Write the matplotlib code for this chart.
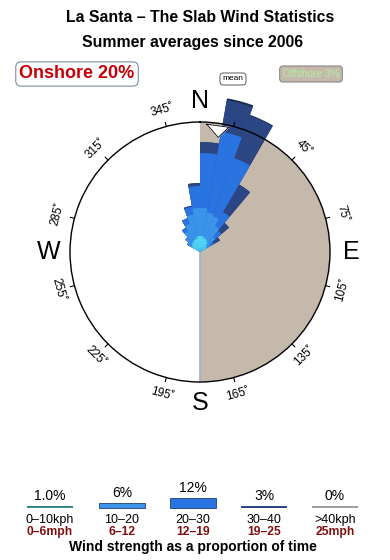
import numpy as np
import matplotlib
matplotlib.use('Agg')
from matplotlib import pyplot as plt

plt.rcParams['font.family'] = ['Liberation Sans', 'DejaVu Sans']

# direction bins (deg, centre of 10 deg sector) and cumulative rose radii per speed class
directions = [305, 315, 325, 335, 345, 355, 5, 15, 25, 35, 45, 55]
r_0_10 = [9, 11, 12, 13, 14, 16, 16, 15, 14, 12, 9, 7]
r_10_20 = [15, 18, 24, 30, 38, 44, 44, 40, 38, 30, 20, 12]
r_20_30 = [15, 19, 28, 36, 46, 66, 99, 122, 100, 46, 28, 16]
r_30_40 = [15, 19, 28, 36, 47, 69, 110, 154, 145, 78, 38, 23]
r_40_up = [15, 19, 28, 36, 47, 69, 110, 156, 146, 78, 38, 23]

speed_colors = ['#4fd8f2', '#3a94ea', '#2a74e2', '#2b4683', '#1c2c55']
legend_pct = [1.0, 6, 12, 3, 0]
legend_pct_txt = ['1.0%', '6%', '12%', '3%', '0%']
legend_colors = ['#3a8a8a', '#3a94ea', '#2a74e2', '#2b4683', '#a0a0a0']
kph_labels = ['0\u201310kph', '10\u201320', '20\u201330', '30\u201340', '>40kph']
mph_labels = ['0\u20136mph', '6\u201312', '12\u201319', '19\u201325', '25mph']

deg_labels = [15, 45, 75, 105, 135, 165, 195, 225, 255, 285, 315, 345]
onshore_pct = 20
offshore_pct = 3
mean_dir = 9

W, H = 390, 560
fig = plt.figure(figsize=(W / 100, H / 100), dpi=100)
fig.patch.set_facecolor('white')

def fx(x):
    return x / W

def fy(y):
    return 1 - y / H

# rose
cx, cy, R = 200, 252, 130
ax = fig.add_axes([fx(cx - R), fy(cy + R), 2 * R / W, 2 * R / H], projection='polar')
ax.set_theta_zero_location('N')
ax.set_theta_direction(-1)
ax.set_ylim(0, R)
ax.grid(False)
ax.set_xticks([])
ax.set_yticks([])
ax.spines['polar'].set_linewidth(1.0)
ax.spines['polar'].set_zorder(6)
ax.set_facecolor('white')

# offshore half shaded
ax.bar(np.deg2rad(90), R, width=np.pi, bottom=0, color='#c5b9ab', edgecolor='none', zorder=1)
ax.plot([np.pi, np.pi], [0, R], color='#9fb2c8', lw=1.2, zorder=2)

theta = np.deg2rad(directions)
width = np.deg2rad(10)
layers = [r_0_10, r_10_20, r_20_30, r_30_40, r_40_up]
# draw outer layers first so inner ones sit on top
for k in range(len(layers) - 1, -1, -1):
    ax.bar(theta, layers[k], width=width, bottom=0, color=speed_colors[k],
           edgecolor='none', zorder=3 + 0.01 * (5 - k), clip_on=False)

# mean arrow
th = np.deg2rad([mean_dir - 6, mean_dir + 4, mean_dir, mean_dir - 6])
rr = [128, 128, 116, 128]
ax.fill(th, rr, color='white', zorder=5, clip_on=False)
ax.plot(th, rr, color='black', lw=0.6, zorder=5, clip_on=False)

# ticks and degree labels
for d in deg_labels:
    t = np.deg2rad(d)
    ax.plot([t, t], [R, R + 4], color='black', lw=0.8, clip_on=False, zorder=6)
    if d == 15:
        continue
    rot = -d if (d < 90 or d > 270) else 180 - d
    ax.text(t, R + 17, '%d\u02da' % d, rotation=rot, ha='center', va='center',
            fontsize=8.5, rotation_mode='anchor', clip_on=False)

for lab, d in zip(['N', 'E', 'S', 'W'], [0, 90, 180, 270]):
    ax.text(np.deg2rad(d), R + 21, lab, ha='center', va='center', fontsize=18, clip_on=False)

# titles
fig.text(fx(200), fy(18), 'La Santa \u2013 The Slab Wind Statistics', ha='center', va='center',
         fontsize=11.4, fontweight='bold')
fig.text(fx(193), fy(42), 'Summer averages since 2006', ha='center', va='center',
         fontsize=11.4, fontweight='bold')

fig.text(fx(77), fy(74), 'Onshore %d%%' % onshore_pct, ha='center', va='center', fontsize=13,
         fontweight='bold', color='#c8000a',
         bbox=dict(boxstyle='round,pad=0.2,rounding_size=0.3', fc='white', ec='#7a8ea8', lw=0.8))
fig.text(fx(311), fy(74), 'Offshore %d%%' % offshore_pct, ha='center', va='center', fontsize=7.3,
         color='#b0f0a0',
         bbox=dict(boxstyle='round,pad=0.3,rounding_size=0.3', fc='#c5b9ab', ec='#707070', lw=0.6))
fig.text(fx(233), fy(79), 'mean', ha='center', va='center', fontsize=6,
         bbox=dict(boxstyle='round,pad=0.3,rounding_size=0.4', fc='white', ec='#404040', lw=0.6))

# legend strip
lx = fig.add_axes([0, 0, 1, 1])
lx.set_xlim(0, W)
lx.set_ylim(0, H)
lx.axis('off')
lx.patch.set_alpha(0)
cols = [50, 122, 193, 264, 335]
base = H - 508
hts = [max(p * 0.8, 1.8) for p in legend_pct]
edges = ['none', '#1d3f7a', '#1d3f7a', 'none', 'none']
lx.bar(cols, hts, width=46, bottom=base, color=legend_colors, edgecolor=edges, linewidth=0.6)
for x, h, t in zip(cols, hts, legend_pct_txt):
    lx.text(x, base + h + 3, t, ha='center', va='bottom', fontsize=10)
for x, k, m in zip(cols, kph_labels, mph_labels):
    lx.text(x, H - 520, k, ha='center', va='center', fontsize=9)
    lx.text(x, H - 532, m, ha='center', va='center', fontsize=8.7, fontweight='bold', color='#801010')
lx.text(193, H - 547, 'Wind strength as a proportion of time', ha='center', va='center',
        fontsize=10, fontweight='bold')

fig.savefig('out.png', dpi=100)
